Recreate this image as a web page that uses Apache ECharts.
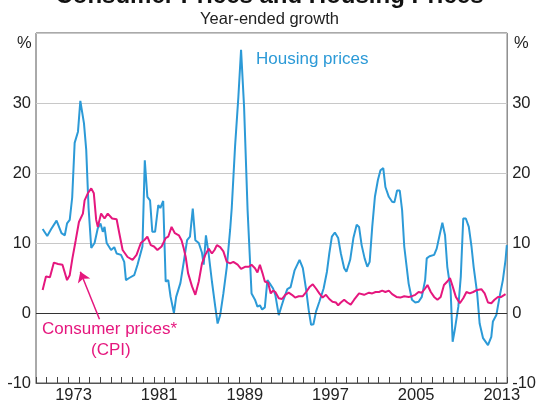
<!DOCTYPE html>
<html>
<head>
<meta charset="utf-8">
<script src="https://cdn.jsdelivr.net/npm/echarts@6/dist/echarts.min.js"></script>
<style>
  html, body { margin: 0; padding: 0; background: #fff; }
  #chart { width: 539px; height: 406px; }
</style>
</head>
<body>
<div id="chart"></div>
<script>
// year-ended growth, % (roughly quarterly)
const housingDates = [
  1970.62, 1971.05, 1971.42, 1971.92, 1972.38, 1972.69, 1972.90, 1973.15, 1973.38, 1973.61,
  1973.92, 1974.14, 1974.48, 1974.69, 1974.91, 1975.16, 1975.47, 1975.77, 1976.02, 1976.24,
  1976.40, 1976.60, 1977.01, 1977.31, 1977.53, 1977.94, 1978.24, 1978.40, 1978.70, 1979.17,
  1979.48, 1979.94, 1980.16, 1980.40, 1980.65, 1980.86, 1981.12, 1981.42, 1981.61, 1981.88,
  1982.11, 1982.35, 1982.57, 1982.88, 1983.09, 1983.49, 1983.80, 1984.11, 1984.38, 1984.64,
  1984.88, 1985.20, 1985.50, 1985.66, 1985.87, 1986.12, 1986.43, 1986.74, 1986.96, 1987.20,
  1987.50, 1987.82, 1988.13, 1988.28, 1988.59, 1988.90, 1989.15, 1989.43, 1989.76, 1990.13,
  1990.45, 1990.68, 1990.91, 1991.12, 1991.37, 1991.61, 1991.84, 1992.14, 1992.35, 1992.67,
  1992.91, 1993.16, 1993.47, 1993.78, 1994.15, 1994.61, 1994.92, 1995.23, 1995.47, 1995.69,
  1995.91, 1996.15, 1996.46, 1996.86, 1997.17, 1997.39, 1997.63, 1997.91, 1998.22, 1998.47,
  1998.78, 1998.99, 1999.34, 1999.64, 1999.95, 2000.17, 2000.41, 2000.69, 2000.94, 2001.16,
  2001.40, 2001.65, 2001.93, 2002.17, 2002.43, 2002.63, 2002.95, 2003.26, 2003.47, 2003.72,
  2003.97, 2004.19, 2004.39, 2004.80, 2005.11, 2005.42, 2005.73, 2006.03, 2006.34, 2006.49,
  2006.75, 2007.18, 2007.42, 2007.73, 2007.95, 2008.20, 2008.41, 2008.72, 2008.91, 2009.11,
  2009.44, 2009.67, 2009.90, 2010.14, 2010.42, 2010.67, 2010.87, 2011.20, 2011.43, 2011.75,
  2012.21, 2012.52, 2012.67, 2012.99, 2013.29, 2013.60, 2013.85, 2013.97
];
const housingValues = [
  12.0, 11.0, 12.0, 13.2, 11.4, 11.1, 12.8, 13.3, 16.5, 24.3,
  25.9, 30.3, 27.1, 23.3, 15.0, 9.3, 10.0, 12.1, 12.8, 11.6,
  12.3, 10.0, 9.0, 9.4, 8.5, 8.3, 7.3, 4.7, 5.0, 5.4,
  6.9, 9.5, 21.8, 16.6, 16.1, 11.6, 11.6, 15.4, 15.0, 16.0,
  4.5, 4.7, 2.3, 0.0, 2.3, 4.3, 7.3, 10.4, 10.9, 14.9,
  10.4, 10.0, 8.6, 6.9, 11.1, 8.5, 4.5, 0.9, -1.5, -0.3,
  2.8, 6.6, 11.9, 15.0, 23.8, 30.9, 37.6, 29.5, 14.7, 2.8,
  1.9, 0.9, 1.1, 0.5, 0.8, 4.7, 4.2, 3.5, 2.6, -0.3,
  0.9, 2.1, 3.4, 3.7, 6.1, 7.6, 6.4, 3.3, 0.4, -1.7,
  -1.6, 0.2, 1.6, 3.5, 5.9, 8.5, 10.9, 11.5, 10.7, 8.5,
  6.4, 5.9, 7.6, 10.7, 12.6, 12.3, 9.7, 7.8, 6.6, 7.3,
  12.3, 16.6, 19.0, 20.4, 20.7, 18.0, 16.6, 15.9, 15.8, 17.5,
  17.5, 14.7, 9.5, 4.2, 1.9, 1.5, 1.6, 2.3, 4.7, 7.8,
  8.1, 8.3, 9.2, 11.4, 12.9, 11.1, 6.6, 3.3, -4.1, -2.4,
  0.9, 5.2, 13.5, 13.5, 12.3, 9.5, 6.6, 2.8, -1.5, -3.6,
  -4.6, -3.4, -1.2, -0.3, 2.3, 4.7, 7.6, 9.7
];

const cpiDates = [
  1970.62, 1970.93, 1971.30, 1971.67, 1972.06, 1972.47, 1972.90, 1973.15, 1973.40, 1973.71,
  1974.01, 1974.38, 1974.54, 1974.84, 1975.16, 1975.40, 1975.62, 1975.77, 1976.08, 1976.40,
  1976.70, 1977.11, 1977.53, 1977.78, 1978.09, 1978.55, 1979.02, 1979.39, 1979.79, 1980.10,
  1980.40, 1980.72, 1981.02, 1981.34, 1981.73, 1982.11, 1982.35, 1982.66, 1982.97, 1983.34,
  1983.59, 1983.80, 1983.98, 1984.20, 1984.57, 1984.88, 1985.20, 1985.50, 1985.81, 1986.12,
  1986.43, 1986.67, 1986.89, 1987.20, 1987.50, 1987.82, 1988.13, 1988.43, 1988.83, 1989.15,
  1989.52, 1989.89, 1990.13, 1990.45, 1990.68, 1990.91, 1991.15, 1991.37, 1991.68, 1991.92,
  1992.14, 1992.35, 1992.67, 1992.97, 1993.28, 1993.60, 1993.90, 1994.20, 1994.53, 1994.92,
  1995.23, 1995.54, 1995.85, 1996.15, 1996.46, 1996.77, 1997.08, 1997.39, 1997.69, 1998.01,
  1998.22, 1998.47, 1998.78, 1999.08, 1999.39, 1999.71, 2000.17, 2000.64, 2001.10, 2001.40,
  2001.71, 2002.03, 2002.33, 2002.63, 2002.95, 2003.26, 2003.66, 2004.02, 2004.39, 2004.80,
  2005.11, 2005.42, 2005.73, 2006.03, 2006.34, 2006.56, 2006.87, 2007.18, 2007.49, 2007.79,
  2008.10, 2008.41, 2008.66, 2008.91, 2009.21, 2009.58, 2009.90, 2010.20, 2010.51, 2010.83,
  2011.20, 2011.59, 2011.90, 2012.21, 2012.52, 2012.82, 2013.14, 2013.45, 2013.85
];
const cpiValues = [
  3.3, 5.2, 5.1, 7.2, 7.0, 6.9, 4.7, 5.4, 7.8, 10.4,
  13.0, 14.2, 16.1, 17.1, 17.8, 17.1, 13.3, 12.3, 14.2, 13.5,
  14.2, 13.5, 13.4, 11.4, 9.0, 8.0, 7.6, 8.3, 10.0, 10.4,
  10.9, 9.7, 9.5, 9.0, 9.5, 10.7, 10.9, 12.3, 11.4, 11.1,
  10.4, 9.2, 8.0, 5.7, 3.8, 2.6, 4.5, 7.1, 8.3, 9.2,
  8.5, 9.0, 9.7, 9.4, 8.8, 7.3, 7.1, 7.3, 6.9, 6.3,
  6.6, 6.6, 6.9, 6.4, 5.8, 6.9, 5.7, 4.5, 4.3, 2.8,
  3.2, 3.0, 2.1, 2.0, 2.6, 2.9, 2.6, 2.2, 2.4, 2.4,
  3.0, 3.7, 4.1, 3.5, 2.8, 2.2, 2.6, 2.0, 1.6, 1.5,
  1.1, 1.5, 1.9, 1.5, 1.2, 1.9, 2.8, 2.6, 2.9, 2.8,
  3.0, 3.0, 3.2, 3.0, 3.2, 2.7, 2.3, 2.2, 2.4, 2.3,
  2.4, 2.6, 3.0, 2.9, 3.5, 4.0, 3.0, 2.3, 1.9, 2.3,
  4.0, 4.5, 5.0, 3.8, 2.3, 1.4, 2.1, 3.0, 2.8, 3.0,
  3.3, 3.4, 2.8, 1.5, 1.4, 1.9, 2.3, 2.3, 2.7
];

const yearLabels = [1973, 1981, 1989, 1997, 2005, 2013];

const blue = '#2C9AD7';
const pink = '#E5177E';
const font = '"Liberation Sans", Arial, sans-serif';

const zip = (xs, vs) => xs.map((x, i) => [x, vs[i]]);

const chart = echarts.init(document.getElementById('chart'));

const yAxisBase = {
  type: 'value',
  min: -10,
  max: 40,
  interval: 10,
  axisLine: { show: false },
  axisTick: { show: false },
  axisLabel: {
    fontFamily: font,
    fontSize: 16.5,
    color: '#222',
    margin: 5,
    formatter: v => (v === 40 ? '' : String(v))
  }
};

chart.setOption({
  animation: false,
  title: [
    {
      text: 'Consumer Prices and Housing Prices',
      left: 'center',
      top: -21,
      textStyle: { fontFamily: font, fontSize: 24, fontWeight: 'bold', color: '#111' }
    },
    {
      text: 'Year-ended growth',
      left: 'center',
      top: 6,
      textStyle: { fontFamily: font, fontSize: 16.5, fontWeight: 'normal', color: '#222' }
    }
  ],
  grid: {
    left: 36,
    right: 28,
    top: 33,
    bottom: 23,
    show: true,
    borderColor: '#555',
    borderWidth: 1
  },
  xAxis: {
    // yearly ticks, labels centred on each year
    type: 'value',
    min: 1970,
    max: 2014,
    interval: 1,
    axisLine: { show: true, onZero: false, lineStyle: { color: '#555' } },
    axisTick: { show: true, inside: true, length: 6, lineStyle: { color: '#444', width: 1 } },
    axisLabel: {
      fontFamily: font,
      fontSize: 16.5,
      color: '#222',
      margin: 4,
      customValues: yearLabels.map(y => y + 0.5),
      formatter: v => String(Math.floor(v))
    },
    splitLine: { show: false }
  },
  yAxis: [
    Object.assign({}, yAxisBase, {
      position: 'left',
      splitLine: { show: true, lineStyle: { color: '#c8c8c8', width: 1 } }
    }),
    Object.assign({}, yAxisBase, {
      position: 'right',
      splitLine: { show: false }
    })
  ],
  series: [
    {
      name: 'Housing prices',
      type: 'line',
      data: zip(housingDates, housingValues),
      showSymbol: false,
      lineStyle: { color: blue, width: 2 },
      itemStyle: { color: blue },
      markLine: {
        silent: true,
        symbol: 'none',
        label: { show: false },
        lineStyle: { color: '#333', width: 1, type: 'solid' },
        data: [{ yAxis: 0 }]
      }
    },
    {
      name: 'Consumer prices',
      type: 'line',
      data: zip(cpiDates, cpiValues),
      showSymbol: false,
      lineStyle: { color: pink, width: 2 },
      itemStyle: { color: pink },
      markLine: {
        silent: true,
        symbol: ['none', 'arrow'],
        symbolSize: 10,
        label: { show: false },
        lineStyle: { color: pink, width: 1.5, type: 'solid' },
        data: [[{ coord: [1975.93, -0.9] }, { coord: [1974.14, 5.9] }]]
      }
    }
  ],
  graphic: [
    {
      type: 'text', left: 17, top: 35,
      style: { text: '%', font: '16.5px ' + font, fill: '#222' }
    },
    {
      type: 'text', left: 514, top: 35,
      style: { text: '%', font: '16.5px ' + font, fill: '#222' }
    },
    {
      type: 'text', left: 256, top: 51,
      style: { text: 'Housing prices', font: '17px ' + font, fill: blue }
    },
    {
      type: 'text', left: 42, top: 321,
      style: { text: 'Consumer prices*', font: '17px ' + font, fill: pink }
    },
    {
      type: 'text', left: 91, top: 342,
      style: { text: '(CPI)', font: '17px ' + font, fill: pink }
    }
  ]
});
</script>
</body>
</html>
